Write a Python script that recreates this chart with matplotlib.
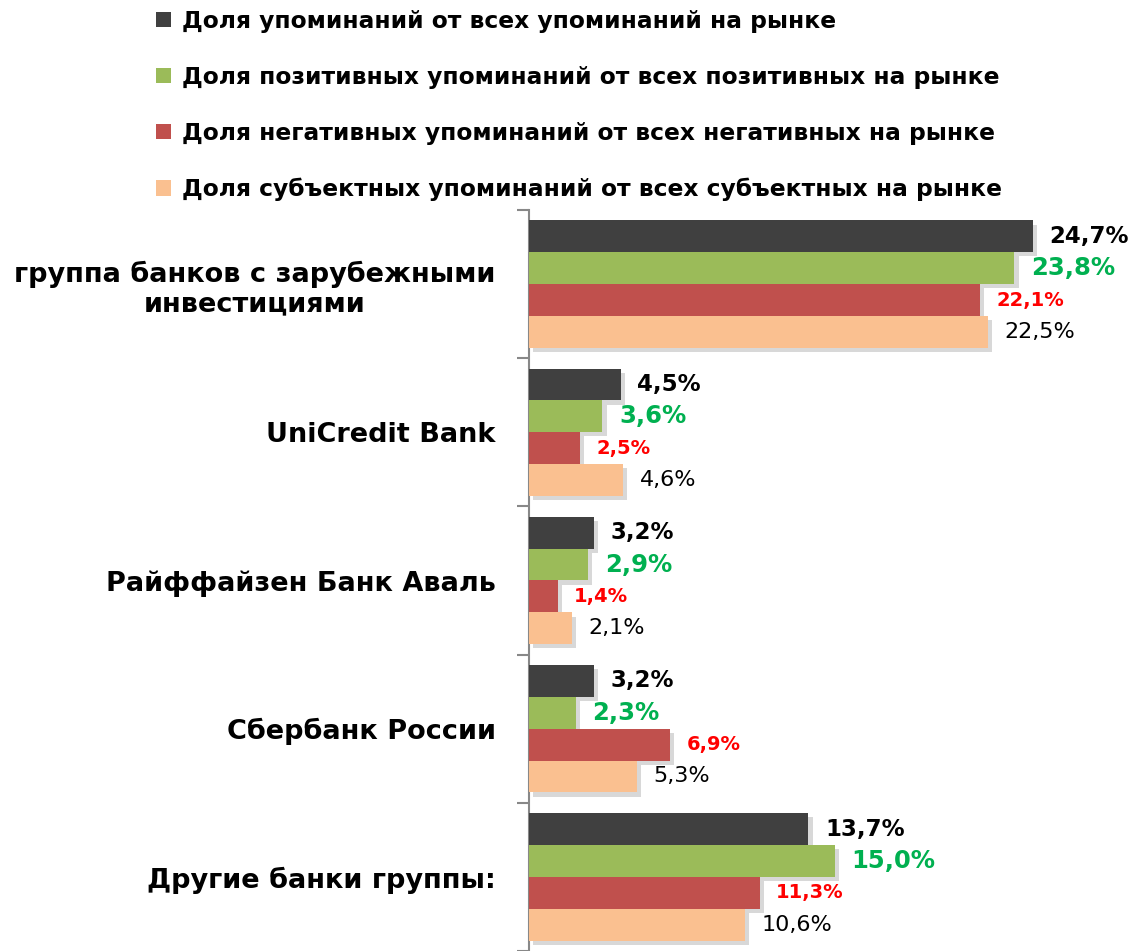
import numpy as np
import matplotlib.pyplot as plt
import matplotlib.patheffects as pe
from matplotlib.patches import Patch

# Categories and series (values in %)
categories = ['группа банков с зарубежными\nинвестициями', 'UniCredit Bank',
              'Райффайзен Банк Аваль', 'Сбербанк России', 'Другие банки группы:']
share_all = [24.7, 4.5, 3.2, 3.2, 13.7]
share_pos = [23.8, 3.6, 2.9, 2.3, 15.0]
share_neg = [22.1, 2.5, 1.4, 6.9, 11.3]
share_subj = [22.5, 4.6, 2.1, 5.3, 10.6]
series_names = ['Доля упоминаний от всех упоминаний на рынке',
                'Доля позитивных упоминаний от всех позитивных на рынке',
                'Доля негативных упоминаний от всех негативных на рынке',
                'Доля субъектных упоминаний от всех субъектных на рынке']

plt.rcParams['font.family'] = ['DejaVu Sans']

bar_colors = ['#404040', '#9BBB59', '#C0504D', '#FAC090']
label_colors = ['black', '#00B050', '#FF0000', 'black']
label_sizes = [16.5, 17.5, 14, 16]
label_weights = ['bold', 'bold', 'bold', 'normal']

fig = plt.figure(figsize=(11.34, 9.51), dpi=100)
ax = fig.add_axes([0.4665, 0.0, 0.5335, 0.7792])

y = np.arange(len(categories))
h = 0.215
data = [share_all, share_pos, share_neg, share_subj]
shadow = [pe.SimplePatchShadow(offset=(3, -3), alpha=0.3, shadow_rgbFace='gray'), pe.Normal()]

for i, vals in enumerate(data):
    pos = y - 0.43 + h / 2 + i * h
    bars = ax.barh(pos, vals, height=h, color=bar_colors[i], zorder=3)
    for b in bars:
        b.set_path_effects(shadow)
    for p, v in zip(pos, vals):
        ax.annotate(f'{v:.1f}%'.replace('.', ','), xy=(v, p), xytext=(12, 0),
                    textcoords='offset points', va='center', ha='left',
                    color=label_colors[i], fontsize=label_sizes[i],
                    fontweight=label_weights[i], zorder=10)

ax.set_xlim(0, 29.66)
ax.set_ylim(len(categories) - 0.5, -0.5)

# ticks at category boundaries, labels at centers
ax.set_yticks(np.arange(len(categories) + 1) - 0.5)
ax.set_yticklabels([])
ax.tick_params(axis='y', which='major', length=8.5, width=1.5, color='#888888', direction='out')
ax.set_yticks(y, minor=True)
ax.set_yticklabels(categories, minor=True, fontsize=19.5, fontweight='bold',
                   multialignment='center')
ax.tick_params(axis='y', which='minor', length=0, pad=24)
ax.set_xticks([])

for s in ['top', 'right', 'bottom']:
    ax.spines[s].set_visible(False)
ax.spines['left'].set_color('#888888')
ax.spines['left'].set_linewidth(1.5)

handles = [Patch(facecolor=c, edgecolor='none') for c in bar_colors]
fig.legend(handles, series_names, loc='upper left', bbox_to_anchor=(0.119, 1.012),
           frameon=False, prop={'size': 16.8, 'weight': 'bold'},
           handlelength=0.65, handleheight=0.65, handletextpad=0.45, labelspacing=1.42)

fig.savefig('out.png', dpi=100)
